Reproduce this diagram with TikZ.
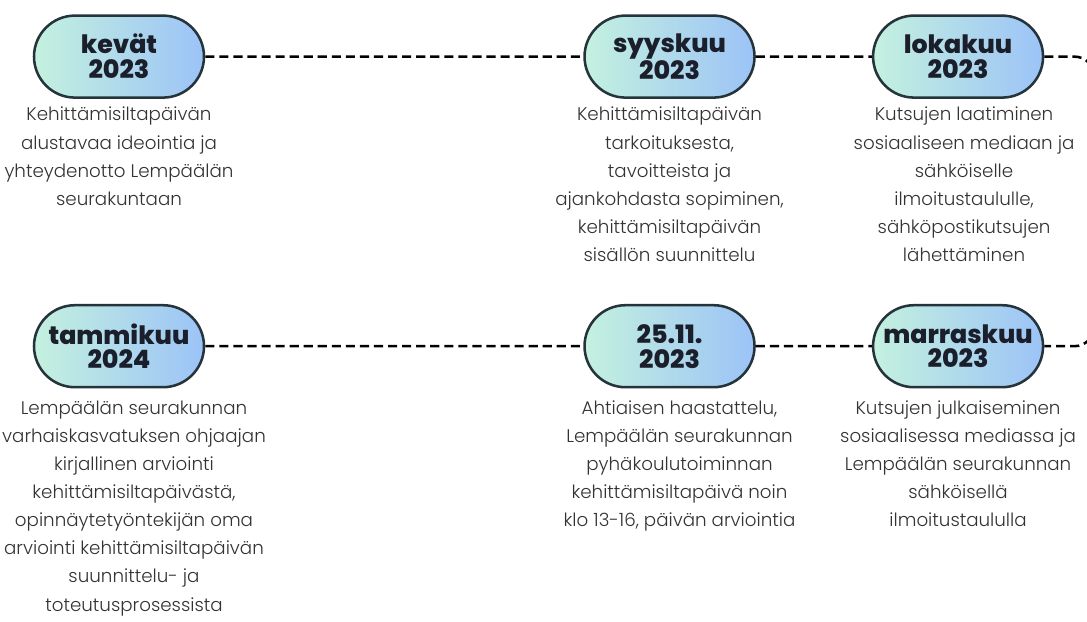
\documentclass[tikz,border=0pt]{standalone}
\usepackage{fontspec}
\setmainfont{Poppins}
\newfontfamily\descfont{Poppins Light}
\newfontfamily\headfont{Poppins ExtraBold}
\usetikzlibrary{positioning, shapes.misc}
\definecolor{pillgreen}{HTML}{C4F1DF}
\definecolor{pillblue}{HTML}{9CC3F7}
\definecolor{pillborder}{HTML}{25333B}
\definecolor{bodytext}{HTML}{333333}
\definecolor{headtext}{HTML}{1B1E2B}

\begin{document}
\begin{tikzpicture}
		\tikzset{
			pill/.style={draw=pillborder, line width=1.8pt, rounded rectangle, minimum width=4.25cm, minimum height=2.05cm, left color=pillgreen, right color=pillblue, align=center, inner sep=0pt, text=headtext, font=\headfont\fontsize{18}{17.7}\selectfont},
			desc/.style={align=center, inner sep=0pt, text=bodytext, font=\descfont\fontsize{13}{20}\selectfont},
			link/.style={draw=black, line width=1.8pt, dash pattern=on 6.5pt off 3.5pt}
		}
		\useasboundingbox (0,0) rectangle (27.175,15.525);
		\clip (0,0) rectangle (27.175,15.525);
		
		% Row 1 milestones
		\node[pill] (kevat) at (2.975,14.11) {kevät\\2023};
		\node[pill, right=9.45cm of kevat] (syys) {syyskuu\\2023};
		\node[pill, right=2.9cm of syys] (loka) {lokakuu\\2023};
		
		% Row 2 milestones
		\node[pill] (tammi) at (2.975,6.87) {tammikuu\\2024};
		\node[pill, right=9.45cm of tammi] (paiva) {25.11.\\2023};
		\node[pill, right=2.9cm of paiva] (marras) {marraskuu\\2023};
		
		% Descriptions
		\node[desc, below=0.2cm of kevat] (kevatd) {Kehittämisiltapäivän\\alustavaa ideointia ja\\yhteydenotto Lempäälän\\seurakuntaan};
		\node[desc, below=0.2cm of syys] (syysd) {Kehittämisiltapäivän\\tarkoituksesta,\\tavoitteista ja\\ajankohdasta sopiminen,\\kehittämisiltapäivän\\sisällön suunnittelu};
		\node[desc, below=0.2cm of loka, xshift=0.15cm] (lokad) {Kutsujen laatiminen\\sosiaaliseen mediaan ja\\sähköiselle\\ilmoitustaululle,\\sähköpostikutsujen\\lähettäminen};
		\node[desc, below=0.3cm of tammi, xshift=0.375cm] (tammid) {Lempäälän seurakunnan\\varhaiskasvatuksen ohjaajan\\kirjallinen arviointi\\kehittämisiltapäivästä,\\opinnäytetyöntekijän oma\\arviointi kehittämisiltapäivän\\suunnittelu- ja\\toteutusprosessista};
		\node[desc, below=0.3cm of paiva, xshift=0.25cm] (paivad) {Ahtiaisen haastattelu,\\Lempäälän seurakunnan\\pyhäkoulutoiminnan\\kehittämisiltapäivä noin\\klo 13-16, päivän arviointia};
		\node[desc, below=0.3cm of marras] (marrasd) {Kutsujen julkaiseminen\\sosiaalisessa mediassa ja\\Lempäälän seurakunnan\\sähköisellä\\ilmoitustaululla};
		
		% Dashed connectors
		\draw[link] (kevat) -- (syys);
		\draw[link] (syys) -- (loka);
		\draw[link, rounded corners=0.5cm] (loka.east) -- ++(1.25,0) |- (marras.east);
		\draw[link] (tammi) -- (paiva);
		\draw[link] (paiva) -- (marras);
		
	\end{tikzpicture}
\end{document}
